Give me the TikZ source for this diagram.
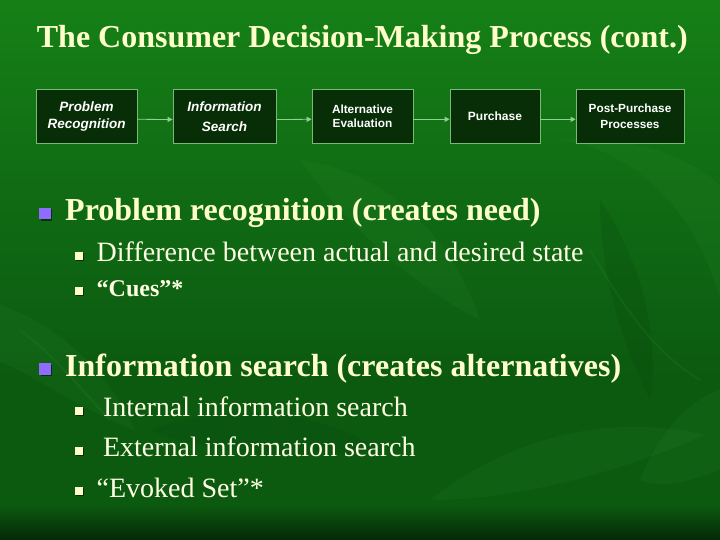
\documentclass[tikz,border=0pt]{standalone}
\usepackage{fontspec}
\setmainfont{Liberation Serif}
\newfontfamily\arialf{Liberation Sans}
\usetikzlibrary{arrows.meta,shadows}
\definecolor{cream}{HTML}{FFFFCC}
\definecolor{creamw}{HTML}{FFFFE4}
\definecolor{bgtop}{RGB}{22,128,22}
\definecolor{bgmid}{RGB}{16,108,20}
\definecolor{bglow}{RGB}{12,90,16}
\definecolor{bgbot}{RGB}{5,40,7}
\definecolor{boxfill}{RGB}{8,46,8}
\definecolor{boxline}{RGB}{120,185,120}
\definecolor{arrowc}{RGB}{150,205,150}
\definecolor{bulpur}{HTML}{8F6BFF}
\definecolor{leafl}{RGB}{70,170,70}
\definecolor{leafd}{RGB}{5,60,10}
\pgfdeclareverticalshading{bgsh}{100bp}{color(0bp)=(bgbot); color(25bp)=(bgbot); color(28.3bp)=(bglow); color(40bp)=(bglow); color(58bp)=(bgmid); color(75bp)=(bgtop); color(100bp)=(bgtop)}
\tikzset{
  ttl/.style={font=\bfseries\fontsize{32}{38}\selectfont, text=cream, anchor=base west, inner sep=0pt},
  lone/.style={font=\bfseries\fontsize{32}{38}\selectfont, text=cream, anchor=base west, inner sep=0pt},
  ltwo/.style={font=\fontsize{28}{34}\selectfont, text=creamw, anchor=base west, inner sep=0pt},
  ltwob/.style={font=\bfseries\fontsize{24}{30}\selectfont, text=creamw, anchor=base west, inner sep=0pt},
  stagebox/.style={draw=boxline, fill=boxfill, line width=0.8pt, text=white, align=center, inner sep=0pt, minimum height=54pt,
     font=\arialf\bfseries\fontsize{12}{15}\selectfont},
  stageit/.style={stagebox, font=\arialf\bfseries\itshape\fontsize{13.5}{17}\selectfont},
  flow/.style={draw=arrowc, line width=0.8pt, -{Triangle[length=5pt,width=5pt]}},
  bulone/.style={fill=bulpur, minimum size=11.5pt, inner sep=0pt, draw=none,
     drop shadow={shadow xshift=1.5pt, shadow yshift=-1.5pt, opacity=.5, fill=black}},
  bultwo/.style={fill=cream, minimum size=8pt, inner sep=0pt, draw=none,
     drop shadow={shadow xshift=1.3pt, shadow yshift=-1.3pt, opacity=.5, fill=black}},
  leafa/.style={fill=leafl, opacity=.08},
  leafb/.style={fill=leafd, opacity=.16},
}
\begin{document}
\begin{tikzpicture}[x=1pt,y=-1pt]
\useasboundingbox (0,0) rectangle (720,540);
% background
\shade[shading=bgsh] (0,0) rectangle (720,540);
% faint leaves
\fill[leafa] (560,140) .. controls (640,150) and (700,220) .. (720,300) -- (720,185) .. controls (680,150) and (620,135) .. cycle;
\fill[leafa] (430,500) .. controls (520,430) and (620,415) .. (705,435) .. controls (625,470) and (520,500) .. cycle;
\fill[leafa] (0,305) .. controls (60,325) and (110,375) .. (135,430) .. controls (80,410) and (30,372) .. (0,362) -- cycle;
\fill[leafa] (300,160) .. controls (380,170) and (450,230) .. (480,320) .. controls (420,290) and (350,230) .. cycle;
\fill[leafb] (600,200) .. controls (640,260) and (660,330) .. (650,400) .. controls (620,340) and (600,270) .. cycle;
\fill[leafb] (150,430) .. controls (230,400) and (320,410) .. (380,450) .. controls (300,460) and (210,455) .. cycle;
\fill[leafa] (640,480) .. controls (660,430) and (690,400) .. (720,390) -- (720,470) .. controls (690,480) and (665,490) .. cycle;
\draw[leafl, opacity=.10, line width=2pt] (590,250) .. controls (620,300) and (650,350) .. (700,380);
\draw[leafl, opacity=.10, line width=2pt] (20,330) .. controls (60,360) and (90,400) .. (110,420);
% title
\node[ttl] (title) at (36.7,47.7) {The Consumer Decision-Making Process (cont.)};
% process boxes
\node[stageit, minimum width=101pt] (b1) at (86.5,116.3) {Problem\\Recognition};
\node[stageit, minimum width=103pt, font=\arialf\bfseries\itshape\fontsize{13.5}{20}\selectfont] (b2) at (224.5,116.5) {Information\\Search};
\node[stagebox, minimum width=101pt, font=\arialf\bfseries\fontsize{11.8}{14}\selectfont] (b3) at (362.5,116.3) {Alternative\\Evaluation};
\node[stagebox, minimum width=90pt] (b4) at (495,116.3) {Purchase};
\node[stagebox, minimum width=108pt, font=\arialf\bfseries\fontsize{11.8}{15.6}\selectfont] (b5) at (630,116.3) {Post-Purchase\\Processes};
\draw[flow] ([yshift=-3pt]b1.east) -- ([yshift=-3pt]b2.west);
\draw[flow] ([yshift=-3pt]b2.east) -- ([yshift=-3pt]b3.west);
\draw[flow] ([yshift=-3pt]b3.east) -- ([yshift=-3pt]b4.west);
\draw[flow] ([yshift=-3pt]b4.east) -- ([yshift=-3pt]b5.west);
% first bullet group
\node[bulone] (bq1) at (45,213.3) {};
\node[lone] (p1) at (65,221) {Problem recognition (creates need)};
\node[bultwo] (bq2) at (79,255.7) {};
\node[ltwo] (p2) at (96.5,261.7) {Difference between actual and desired state};
\node[bultwo] (bq3) at (79,290.7) {};
\node[ltwob] (p3) at (96.5,296.7) {“Cues”*};
% second bullet group
\node[bulone] (bq4) at (45,369) {};
\node[lone] (p4) at (65,376.7) {Information search (creates alternatives)};
\node[bultwo] (bq5) at (79,410.7) {};
\node[ltwo] (p5) at (102.8,416.7) {Internal information search};
\node[bultwo] (bq6) at (79,450.7) {};
\node[ltwo] (p6) at (102.8,456.7) {External information search};
\node[bultwo] (bq7) at (79,491) {};
\node[ltwo] (p7) at (96.5,497.7) {“Evoked Set”*};
\end{tikzpicture}
\end{document}
